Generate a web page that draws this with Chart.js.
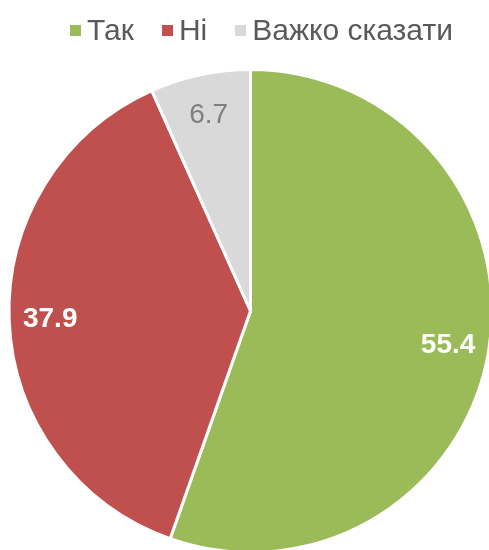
<!DOCTYPE html>
<html>
<head>
<meta charset="utf-8">
<script src="https://cdn.jsdelivr.net/npm/chart.js@4"></script>
<style>
  html, body { margin: 0; padding: 0; background: #fff; }
  #wrap { position: relative; width: 489px; height: 550px; overflow: hidden; }
  #pieChart { position: absolute; left: 0; top: 0; }
  #legend {
    position: absolute; top: 10px; left: 0; width: 489px;
    display: flex; justify-content: center; padding-left: 34px; box-sizing: border-box;
    font-family: "Liberation Sans", Arial, sans-serif; font-size: 30px; color: #595959;
  }
  .item { display: flex; align-items: center; margin-right: 28px; line-height: 40px; }
  .item:last-child { margin-right: 0; }
  .box { width: 11px; height: 11px; margin-right: 6px; }
</style>
</head>
<body>
<div id="wrap">
  <canvas id="pieChart" width="494" height="554"></canvas>
  <div id="legend"></div>
</div>
<script>
// --- Data ---
const labels = ["Так", "Ні", "Важко сказати"];
const values = [55.4, 37.9, 6.7];
const colors = ["#9BBB59", "#C0504D", "#D9D9D9"];
const labelColors = ["#FFFFFF", "#FFFFFF", "#7F7F7F"];
const labelBold = [true, true, false];

// --- HTML legend ---
const legendEl = document.getElementById("legend");
labels.forEach((name, i) => {
  const item = document.createElement("div");
  item.className = "item";
  const box = document.createElement("span");
  box.className = "box";
  box.style.background = colors[i];
  const txt = document.createElement("span");
  txt.textContent = name;
  item.appendChild(box);
  item.appendChild(txt);
  legendEl.appendChild(item);
});

// --- value labels inside slices ---
const sliceLabels = {
  id: "sliceLabels",
  afterDatasetsDraw(chart) {
    const ctx = chart.ctx;
    const meta = chart.getDatasetMeta(0);
    meta.data.forEach((arc, i) => {
      const p = arc.getProps(["x", "y", "startAngle", "endAngle", "outerRadius"], true);
      const mid = (p.startAngle + p.endAngle) / 2;
      const r = p.outerRadius * 0.83;
      const x = p.x + Math.cos(mid) * r;
      const y = p.y + Math.sin(mid) * r;
      ctx.save();
      ctx.font = (labelBold[i] ? "bold " : "") + "28px 'Liberation Sans', Arial, sans-serif";
      ctx.fillStyle = labelColors[i];
      ctx.textAlign = "center";
      ctx.textBaseline = "middle";
      ctx.fillText(values[i].toFixed(1), x, y);
      ctx.restore();
    });
  }
};

const ctx = document.getElementById("pieChart").getContext("2d");
const chart = new Chart(ctx, {
  type: "pie",
  data: {
    labels: labels,
    datasets: [
      {
        data: values,
        backgroundColor: colors,
        borderColor: "#FFFFFF",
        borderWidth: 3,
      },
    ],
  },
  options: {
    responsive: false,
    animation: false,
    layout: {
      padding: { top: 68, left: 7, right: 0, bottom: 0 },
    },
    plugins: {
      legend: { display: false },
      tooltip: { enabled: false },
    },
  },
  plugins: [sliceLabels],
});
</script>
</body>
</html>
